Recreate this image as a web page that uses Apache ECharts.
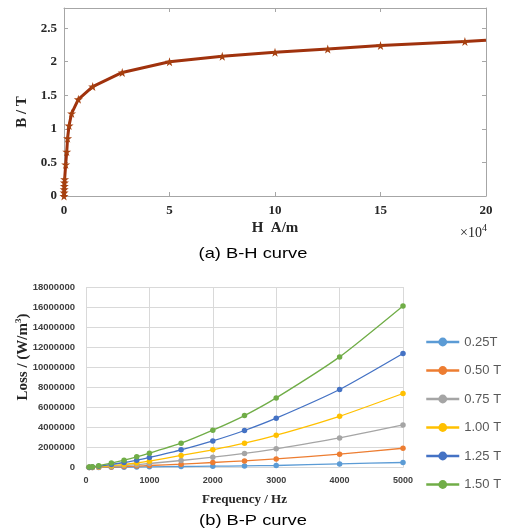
<!DOCTYPE html>
<html>
<head>
<meta charset="utf-8">
<script src="https://cdn.jsdelivr.net/npm/echarts@6/dist/echarts.min.js"></script>
<style>html,body{margin:0;padding:0;background:#fff}#c{width:506px;height:531px}</style>
</head>
<body>
<div id="c"></div>
<script>
// ---- B-H curve data (H in units of 10^4 A/m, B in T) ----
const hValues = [0, 0.005, 0.01, 0.015, 0.02, 0.03, 0.08, 0.13, 0.17, 0.24, 0.36, 0.68, 1.36, 2.76, 5, 7.5, 10, 12.5, 15, 19, 20];
const bValues = [0, 0.05, 0.1, 0.15, 0.2, 0.25, 0.47, 0.66, 0.86, 1.05, 1.23, 1.44, 1.63, 1.84, 2.0, 2.08, 2.14, 2.19, 2.24, 2.30, 2.32];

// ---- B-P curve data ----
const frequencies = [50, 100, 200, 400, 600, 800, 1000, 1500, 2000, 2500, 3000, 4000, 5000];
const seriesNames = ['0.25T', '0.50 T', '0.75 T', '1.00 T', '1.25 T', '1.50 T'];
const loss025 = [2000, 4000, 7000, 20000, 30000, 50000, 70000, 100000, 130000, 160000, 200000, 360000, 500000];
const loss050 = [5000, 10000, 20000, 50000, 90000, 140000, 200000, 330000, 500000, 660000, 860000, 1330000, 1920000];
const loss075 = [10000, 20000, 40000, 110000, 190000, 280000, 400000, 700000, 1030000, 1400000, 1860000, 2950000, 4250000];
const loss100 = [15000, 35000, 70000, 180000, 300000, 450000, 630000, 1200000, 1760000, 2420000, 3220000, 5110000, 7380000];
const loss125 = [25000, 50000, 120000, 300000, 500000, 720000, 1000000, 1760000, 2650000, 3690000, 4920000, 7780000, 11370000];
const loss150 = [40000, 80000, 180000, 440000, 730000, 1060000, 1430000, 2420000, 3720000, 5180000, 6940000, 11030000, 16110000];
const lossSeries = [loss025, loss050, loss075, loss100, loss125, loss150];
const seriesColors = ['#5B9BD5', '#ED7D31', '#A5A5A5', '#FFC000', '#4472C4', '#70AD47'];

// ---- tick settings ----
const bhXTicks = {min: 0, max: 20, interval: 5};
const bhYTicks = {min: 0, max: 2.8, interval: 0.5};
const bpXTicks = {min: 0, max: 5000, interval: 1000};
const bpYTicks = {min: 0, max: 18000000, interval: 2000000};

const SERIF = "'Liberation Serif','Times New Roman',serif";
const SANS = "'Liberation Sans',Arial,sans-serif";
const STAR = 'path://M50,0 L61,35 L98,35 L68,57 L79,91 L50,70 L21,91 L32,57 L2,35 L39,35 Z';
const BOXC = '#a6a6a6';
const LBLC = '#262626';

const chart = echarts.init(document.getElementById('c'), null, {renderer: 'canvas'});

const bhData = hValues.map((h, i) => [h, bValues[i]]);
const lastBH = bhData.length - 1;

const matlabAxisBase = {
  axisLine: {show: true, onZero: false, lineStyle: {color: BOXC, width: 1}},
  axisTick: {show: true, inside: true, length: 4, lineStyle: {color: BOXC}},
  splitLine: {show: false}
};

const option = {
  animation: false,
  backgroundColor: '#fff',
  grid: [
    {left: 64, right: 20, top: 8, height: 188, containLabel: false},
    {left: 86, right: 103, top: 287, height: 180.5, containLabel: false}
  ],
  xAxis: [
    Object.assign({}, matlabAxisBase, {
      type: 'value', gridIndex: 0, position: 'bottom', ...bhXTicks,
      axisLabel: {color: LBLC, fontFamily: SERIF, fontWeight: 'bold', fontSize: 13, margin: 8},
      name: 'H  A/m', nameLocation: 'middle', nameGap: 25,
      nameTextStyle: {color: LBLC, fontFamily: SERIF, fontWeight: 'bold', fontSize: 15}
    }),
    Object.assign({}, matlabAxisBase, {
      type: 'value', gridIndex: 0, position: 'top', ...bhXTicks,
      axisLabel: {show: false}
    }),
    {
      type: 'value', gridIndex: 1, ...bpXTicks,
      axisLine: {show: true, onZero: false, lineStyle: {color: '#d9d9d9'}},
      axisTick: {show: false},
      splitLine: {show: true, lineStyle: {color: '#d9d9d9', width: 1}},
      axisLabel: {color: '#404040', fontFamily: SANS, fontWeight: 'bold', fontSize: 9, margin: 9,
        formatter: v => String(v)},
      name: 'Frequency / Hz', nameLocation: 'middle', nameGap: 26,
      nameTextStyle: {color: LBLC, fontFamily: SERIF, fontWeight: 'bold', fontSize: 13}
    }
  ],
  yAxis: [
    Object.assign({}, matlabAxisBase, {
      type: 'value', gridIndex: 0, position: 'left', ...bhYTicks,
      axisLabel: {color: LBLC, fontFamily: SERIF, fontWeight: 'bold', fontSize: 13, margin: 7, showMaxLabel: false}
    }),
    Object.assign({}, matlabAxisBase, {
      type: 'value', gridIndex: 0, position: 'right', ...bhYTicks,
      axisLabel: {show: false}
    }),
    {
      type: 'value', gridIndex: 1, ...bpYTicks,
      axisLine: {show: false},
      axisTick: {show: false},
      splitLine: {show: true, lineStyle: {color: '#d9d9d9', width: 1}},
      axisLabel: {color: '#404040', fontFamily: SANS, fontWeight: 'bold', fontSize: 9.5, margin: 11,
        formatter: v => String(v)}
    }
  ],
  legend: {
    orient: 'vertical', left: 420, top: 330,
    itemWidth: 33, itemHeight: 11, itemGap: 14.5,
    data: seriesNames,
    textStyle: {color: '#595959', fontFamily: SANS, fontSize: 13, lineHeight: 14},
    lineStyle: {width: 2.5}
  },
  series: [
    {
      type: 'line', xAxisIndex: 0, yAxisIndex: 0, data: bhData,
      lineStyle: {color: '#A0320D', width: 3},
      itemStyle: {color: '#A6400F'},
      symbol: STAR,
      symbolSize: (v, p) => (p.dataIndex === lastBH ? 0 : 9),
      z: 3
    }
  ].concat(lossSeries.map((arr, k) => ({
    type: 'line', name: seriesNames[k], xAxisIndex: 2, yAxisIndex: 2,
    data: frequencies.map((f, i) => [f, arr[i]]),
    smooth: 0.2,
    symbol: 'circle', symbolSize: 5.5,
    lineStyle: {color: seriesColors[k], width: 1.3},
    itemStyle: {color: seriesColors[k]}
  }))),
  graphic: [
    {type: 'text', x: 22.5, y: 112, rotation: Math.PI / 2,
      style: {text: 'B / T', font: "bold 15px " + SERIF, fill: LBLC, align: 'center', verticalAlign: 'middle'}},
    {type: 'text', x: 487, y: 233,
      style: {text: '×10{s|4}', font: "14px " + SERIF, fill: LBLC, align: 'right', verticalAlign: 'middle',
        rich: {s: {fontSize: 10, fontFamily: SERIF, verticalAlign: 'top', padding: [0, 0, 10, 0]}}}},
    {type: 'text', x: 253, y: 254, scaleX: 1.22,
      style: {text: '(a) B-H curve', font: "15px " + SANS, fill: '#000', align: 'center', verticalAlign: 'middle'}},
    {type: 'text', x: 23, y: 357, rotation: Math.PI / 2,
      style: {text: 'Loss / (W/m{s|3})', font: "bold 15px " + SERIF, fill: LBLC, align: 'center', verticalAlign: 'middle',
        rich: {s: {fontSize: 9, fontWeight: 'bold', fontFamily: SERIF, padding: [0, 0, 9, 0]}}}},
    {type: 'text', x: 253, y: 521, scaleX: 1.22,
      style: {text: '(b) B-P curve', font: "15px " + SANS, fill: '#000', align: 'center', verticalAlign: 'middle'}}
  ]
};
chart.setOption(option);
</script>
</body>
</html>
